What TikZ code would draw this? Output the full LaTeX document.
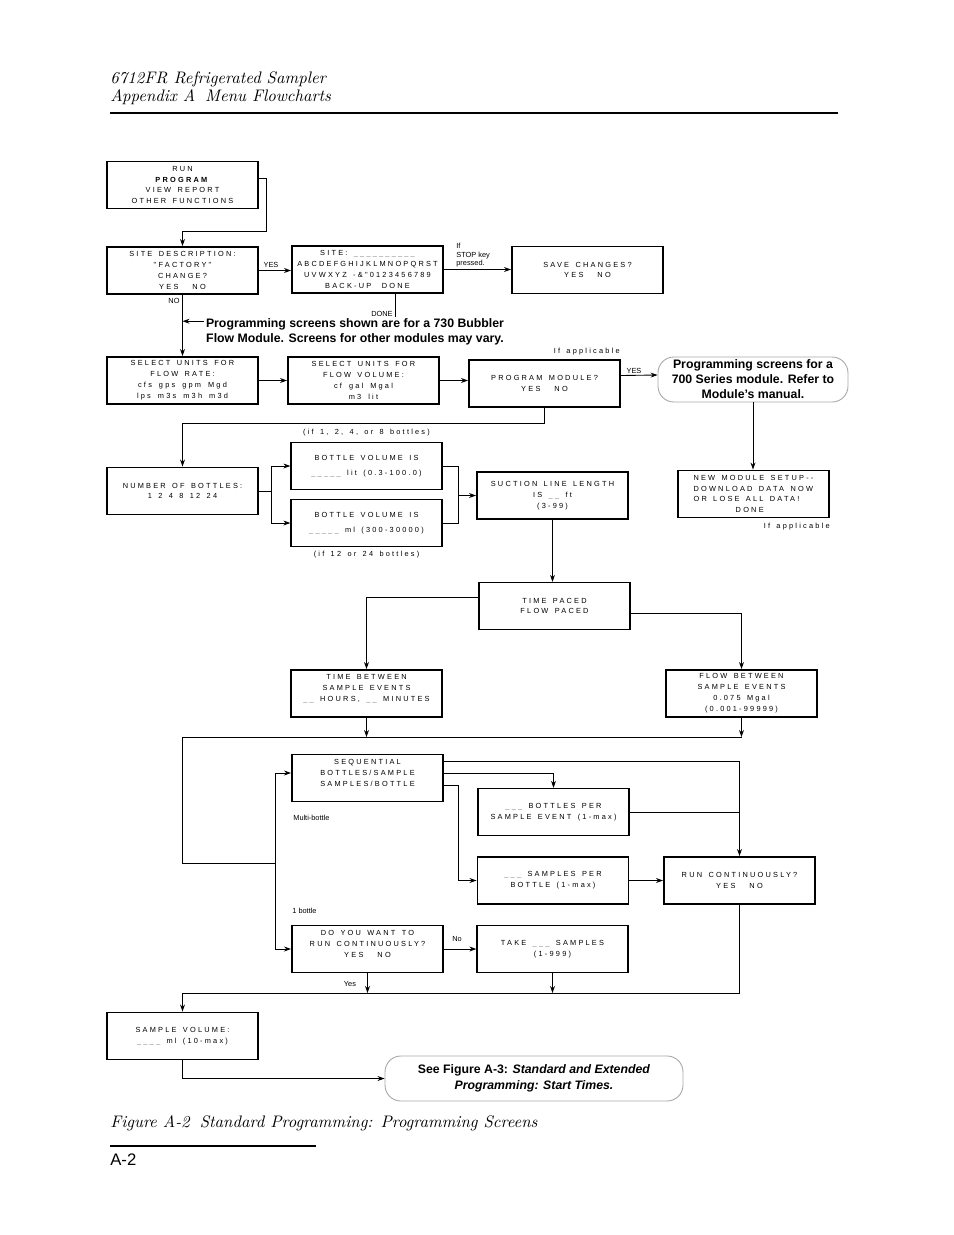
\documentclass[tikz,border=0pt]{standalone}
\usepackage{fontspec}
\usetikzlibrary{arrows.meta,calc}

\newfontfamily\lcdfont[LetterSpace=30,WordSpace=1.5]{Liberation Sans}
\newfontfamily\helv{Liberation Sans}
\newcommand{\blank}[1]{\textcolor{gray}{#1}}

\begin{document}
\begin{tikzpicture}[x=0.02cm,y=-0.02cm]
\tikzstyle{screen}=[draw, rectangle, line width=1.1pt, minimum width=3.02cm, minimum height=0.94cm, align=center, inner sep=1pt, font=\lcdfont\fontsize{4.2}{6.2}\selectfont]
\tikzstyle{screenlite}=[screen, line width=0.7pt]
\tikzstyle{line}=[draw, -{Stealth[length=4pt,width=2.8pt]}, line width=0.5pt]
\tikzstyle{plain}=[draw, line width=0.5pt]
\tikzstyle{tag}=[inner sep=0pt, font=\helv\fontsize{4.2}{4.8}\selectfont]
\tikzstyle{hint}=[inner sep=0pt, font=\lcdfont\fontsize{4.2}{5}\selectfont]
\tikzstyle{bubble}=[draw=gray!70, line width=0.5pt, rounded corners=9pt, minimum width=3.8cm, minimum height=0.9cm, align=center, inner sep=1pt, font=\helv\bfseries\fontsize{7}{8.5}\selectfont]
\tikzstyle{heading}=[anchor=north west, align=left, inner sep=0pt, font=\itshape\fontsize{9.5}{10.2}\selectfont]

\useasboundingbox (0,0) rectangle (954,1235);

% Page header and footer
\node[heading] (title) at (110,71) {6712FR Refrigerated Sampler\\Appendix A\hspace{0.6em}Menu Flowcharts};
\draw[line width=0.9pt] (110,113) -- (838,113);
\node[heading, anchor=west] (caption) at (110,1123) {Figure A-2\hspace{0.6em}Standard Programming: Programming Screens};
\draw[line width=1.3pt] (110,1146) -- (316,1146);
\node[anchor=west, inner sep=0pt, font=\helv\fontsize{9.5}{11}\selectfont] (pagenum) at (110,1160) {A-2};

% Define screens
\node[screen] (menu) at (182.5,185) {RUN\\\textbf{PROGRAM}\\VIEW REPORT\\OTHER FUNCTIONS};
\node[screen] (sitedesc) at (182.5,270.5) {SITE DESCRIPTION:\\"FACTORY"\\CHANGE?\\YES\hspace{8pt}NO};
\node[screen] (sitename) at (367.5,269.5) {SITE: \blank{\_\_\_\_\_\_\_\_\_\_}\\ABCDEFGHIJKLMNOPQRST\\UVWXYZ -\&"0123456789\\BACK-UP\hspace{6pt}DONE};
\node[screen] (savechg) at (587.5,270) {SAVE CHANGES?\\YES\hspace{8pt}NO};
\node[screen] (unitsrate) at (182.5,380.5) {SELECT UNITS FOR\\FLOW RATE:\\cfs\hspace{4pt}gps\hspace{4pt}gpm\hspace{4pt}Mgd\\lps\hspace{4pt}m3s\hspace{4pt}m3h\hspace{4pt}m3d};
\node[screen] (unitsvol) at (363.5,380.5) {SELECT UNITS FOR\\FLOW VOLUME:\\cf\hspace{4pt}gal\hspace{4pt}Mgal\\m3\hspace{4pt}lit};
\node[screen] (progmod) at (544.5,383.5) {PROGRAM MODULE?\\YES\hspace{8pt}NO};
\node[bubble] (modnote) at (753,379.5) {Programming screens for a\\700 Series module. Refer to\\Module’s manual.};
\node[screen] (numbottles) at (182.5,491) {NUMBER OF BOTTLES:\\1 2 4 8 12 24};
\node[screenlite] (bvlit) at (366.5,466) {BOTTLE VOLUME IS\\[2pt]\blank{\_\_\_\_\_} lit (0.3-100.0)};
\node[screenlite] (bvml) at (366.5,523) {BOTTLE VOLUME IS\\[2pt]\blank{\_\_\_\_\_} ml (300-30000)};
\node[screen] (suction) at (552.5,495.5) {SUCTION LINE LENGTH\\IS \blank{\_\_} ft\\(3-99)};
\node[screen, align=left] (newmod) at (753.5,494) {NEW MODULE SETUP--\\DOWNLOAD DATA NOW\\OR LOSE ALL DATA!\\\hspace*{24pt}DONE};
\node[screenlite] (pacing) at (554.5,606) {TIME PACED\\FLOW PACED};
\node[screen] (timebtw) at (366.5,693.5) {TIME BETWEEN\\SAMPLE EVENTS\\\blank{\_\_} HOURS, \blank{\_\_} MINUTES\\\mbox{}};
\node[screen] (flowbtw) at (741.5,693.5) {FLOW BETWEEN\\SAMPLE EVENTS\\0.075 Mgal\\(0.001-99999)};
\node[screen] (distrib) at (367.5,778) {SEQUENTIAL\\BOTTLES/SAMPLE\\SAMPLES/BOTTLE\\\mbox{}};
\node[screenlite] (bottlesper) at (553.5,812) {\blank{\_\_\_} BOTTLES PER\\SAMPLE EVENT (1-max)};
\node[screen] (samplesper) at (553,880.5) {\blank{\_\_\_} SAMPLES PER\\BOTTLE (1-max)};
\node[screen] (runcont) at (739.5,880.5) {RUN CONTINUOUSLY?\\YES\hspace{8pt}NO};
\node[screen] (runcontone) at (367.5,949) {DO YOU WANT TO\\RUN CONTINUOUSLY?\\YES\hspace{8pt}NO\\\mbox{}};
\node[screenlite] (takesamples) at (552.5,949) {TAKE \blank{\_\_\_} SAMPLES\\(1-999)};
\node[screen] (samplevol) at (182.5,1036) {SAMPLE VOLUME:\\\blank{\_\_\_\_} ml (10-max)};
\node[bubble, minimum width=5.96cm, font=\helv\bfseries\fontsize{7}{9}\selectfont] (seenote) at (534,1078.5) {See Figure A-3: \textit{Standard and Extended}\\\textit{Programming: Start Times.}};

% Junctions
\coordinate (gatherA) at (182.5,737);
\coordinate (fork) at (275,863);
\coordinate (gatherB) at (182.5,993);

% Message flow
\draw[line] ($(menu.east)+(0,-7)$) -- ++(7,0) -- ++(0,53) -| (sitedesc.north);
\draw[line] (sitedesc.east) -- (sitedesc.east -| sitename.west);
\draw[line] (sitename.east) -- (sitename.east -| savechg.west);
\draw[line] (sitedesc.south) -- (unitsrate.north);
\draw[line] ($(sitename.south)+(28,0)$) |- ($(sitedesc.south)!0.43!(unitsrate.north)$);
\node[fill=white, inner sep=1pt, align=center, font=\helv\bfseries\fontsize{7}{8.5}\selectfont] (bubblernote) at (355,331.5) {Programming screens shown are for a 730 Bubbler\\Flow Module. Screens for other modules may vary.};
\draw[line] (unitsrate.east) -- (unitsvol.west);
\draw[line] (unitsvol.east) -- (unitsvol.east -| progmod.west);
\draw[line] ($(progmod.east)+(0,-8)$) -- ($(modnote.west)+(0,-4.5)$);
\draw[line] (progmod.south) -- ++(0,15) -| (numbottles.north);
\draw[line] (modnote.south) -- (modnote.south |- newmod.north);
\draw[line] (numbottles.east) -- ++(12,0) |- (bvlit.west);
\draw[line] (numbottles.east) -- ++(12,0) |- (bvml.west);
\draw[plain] (bvlit.east) -- ++(16,0) |- (bvml.east);
\draw[line] ($(bvlit.east)+(16,0)$) |- (suction.west);
\draw[line] (suction.south) -- (suction.south |- pacing.north);
\draw[line] ($(pacing.west)+(0,-9)$) -| (timebtw.north);
\draw[line] ($(pacing.east)+(0,7)$) -| (flowbtw.north);
\draw[line] (timebtw.south) -- (timebtw.south |- gatherA);
\draw[line] (flowbtw.south) -- (flowbtw.south |- gatherA);
\draw[plain] (gatherA) -- (gatherA -| flowbtw.south);
\draw[plain] (gatherA) |- (fork);
\draw[line] (fork) |- ($(distrib.west)+(0,-5)$);
\draw[line] (fork) |- (runcontone.west);
\draw[line] ($(distrib.east)+(0,-17)$) -| (runcont.north);
\draw[line] ($(distrib.east)+(0,-5)$) -| (bottlesper.north);
\draw[line] ($(distrib.east)+(0,7)$) -- ++(14,0) |- (samplesper.west);
\draw[plain] (bottlesper.east) -- (bottlesper.east -| runcont.north);
\draw[line] (samplesper.east) -- (runcont.west);
\draw[line] (runcontone.east) -- (takesamples.west);
\draw[line] (runcontone.south) -- (runcontone.south |- gatherB);
\draw[line] (takesamples.south) -- (takesamples.south |- gatherB);
\draw[plain] (runcont.south) -- (runcont.south |- gatherB);
\draw[plain] (gatherB) -- (gatherB -| runcont.south);
\draw[line] (gatherB) -- (samplevol.north);
\draw[line] (samplevol.south) |- (seenote.west);

% Labels
\node[tag] (yesA) at (271,265) {YES};
\node[tag, align=left, anchor=north west] (stopnote) at (456,243) {If\\STOP key\\pressed.};
\node[tag] (noA) at (174,301) {NO};
\node[tag] (doneA) at (382,314) {DONE};
\node[hint, anchor=east] (ifappA) at (620,352) {If applicable};
\node[tag] (yesB) at (634,371) {YES};
\node[hint] (ifsmall) at (366.5,433) {(if 1, 2, 4, or 8 bottles)};
\node[hint] (iflarge) at (366.5,555) {(if 12 or 24 bottles)};
\node[hint, anchor=east] (ifappB) at (830,527) {If applicable};
\node[tag, anchor=west] (multi) at (293,818) {Multi-bottle};
\node[tag, anchor=west] (single) at (292,911) {1 bottle};
\node[tag] (noB) at (457,939) {No};
\node[tag] (yesC) at (350,984) {Yes};
\end{tikzpicture}
\end{document}
